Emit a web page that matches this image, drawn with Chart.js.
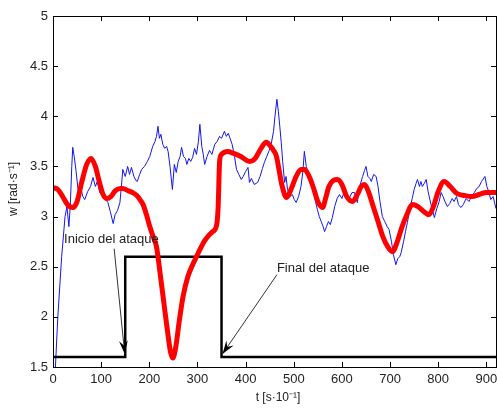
<!DOCTYPE html>
<html>
<head>
<meta charset="utf-8">
<script src="https://cdn.jsdelivr.net/npm/chart.js@4"></script>
<style>
  html, body { margin: 0; padding: 0; background: #fff; }
  #wrap { width: 497px; height: 412px; }
</style>
</head>
<body>
<div id="wrap"><canvas id="attackChart" width="497" height="412"></canvas></div>
<script>
// tick labels
const xTicks = [0, 100, 200, 300, 400, 500, 600, 700, 800, 900]
const yTicks = [1.5, 2, 2.5, 3, 3.5, 4, 4.5, 5]

// attack signal (step)
const stepT = [0, 150, 150, 350, 350, 920]
const stepW = [1.6, 1.6, 2.6, 2.6, 1.6, 1.6]

// measured speed (blue, noisy)
const blueT = [5, 10, 18, 25, 29, 33, 36, 39, 41, 44, 48, 52, 57, 62, 66, 72, 78, 83, 88, 92, 97, 102, 108, 114, 119, 125, 129, 134, 139, 142, 145, 150, 155, 159, 163, 168, 172, 175, 180, 184, 190, 196, 201, 207, 212, 215, 218, 221, 224, 228, 232, 236, 239, 243, 248, 252, 256, 260, 264, 267, 271, 275, 278, 282, 286, 290, 294, 298, 302, 305, 309, 312, 315, 320, 325, 330, 336, 341, 346, 350, 356, 360, 364, 367, 372, 377, 381, 386, 391, 395, 400, 405, 408, 412, 418, 425, 430, 435, 439, 444, 449, 453, 458, 461, 465, 468, 471, 474, 477, 481, 484, 487, 492, 497, 501, 505, 510, 515, 519, 522, 526, 530, 533, 538, 543, 549, 553, 557, 561, 564, 568, 572, 576, 580, 585, 590, 595, 600, 605, 610, 616, 621, 626, 632, 637, 643, 647, 650, 654, 658, 661, 666, 671, 675, 679, 684, 689, 694, 698, 703, 707, 712, 716, 720, 723, 728, 732, 736, 741, 746, 750, 754, 757, 761, 764, 767, 771, 775, 779, 785, 789, 792, 797, 802, 806, 810, 814, 819, 824, 829, 833, 838, 842, 847, 852, 858, 864, 869, 875, 880, 885, 890, 897, 901, 905, 909, 914, 920]
const blueW = [1.5, 2.0, 2.6, 3.0, 3.1, 2.9, 3.12, 3.5, 3.69, 3.6, 3.45, 3.27, 3.3, 3.2, 3.17, 3.25, 3.3, 3.39, 3.3, 3.35, 3.24, 3.28, 3.18, 3.14, 3.05, 2.93, 3.02, 3.06, 3.14, 3.3, 3.47, 3.4, 3.5, 3.42, 3.49, 3.4, 3.36, 3.35, 3.42, 3.47, 3.5, 3.55, 3.6, 3.7, 3.75, 3.8, 3.9, 3.78, 3.82, 3.72, 3.68, 3.7, 3.65, 3.5, 3.27, 3.52, 3.44, 3.55, 3.6, 3.69, 3.6, 3.58, 3.52, 3.58, 3.55, 3.59, 3.68, 3.62, 3.75, 3.92, 3.7, 3.62, 3.52, 3.6, 3.66, 3.62, 3.72, 3.75, 3.8, 3.78, 3.85, 3.8, 3.83, 3.79, 3.72, 3.6, 3.47, 3.42, 3.37, 3.4, 3.45, 3.49, 3.34, 3.38, 3.32, 3.34, 3.4, 3.48, 3.54, 3.6, 3.66, 3.72, 3.85, 4.0, 4.17, 4.05, 3.9, 3.74, 3.55, 3.34, 3.4, 3.27, 3.2, 3.22, 3.17, 3.14, 3.2, 3.3, 3.45, 3.65, 3.5, 3.44, 3.4, 3.3, 3.2, 3.07, 3.0, 2.95, 2.9, 2.85, 2.9, 2.95, 2.92, 2.99, 3.1, 3.18, 3.22, 3.18, 3.25, 3.2, 3.19, 3.24, 3.24, 3.14, 3.3, 3.4, 3.46, 3.5, 3.4, 3.38, 3.35, 3.42, 3.4, 3.3, 3.15, 3.0, 2.95, 2.9, 2.87, 2.75, 2.62, 2.52, 2.58, 2.6, 2.64, 2.75, 2.85, 2.94, 3.08, 3.18, 3.27, 3.33, 3.37, 3.3, 3.35, 3.3, 3.33, 3.37, 3.25, 3.12, 3.05, 2.99, 3.08, 3.15, 3.24, 3.2, 3.15, 3.1, 3.13, 3.18, 3.15, 3.2, 3.12, 3.09, 3.12, 3.18, 3.15, 3.2, 3.24, 3.28, 3.3, 3.35, 3.4, 3.3, 3.25, 3.17, 3.2, 3.08]

// estimated speed (red, smooth)
const redT = [0, 10, 20, 30, 41, 50, 60, 70, 79, 88, 96, 104, 112, 120, 130, 140, 145, 155, 165, 174, 182, 187, 194, 201, 208, 215, 222, 230, 238, 244, 249, 255, 262, 270, 280, 290, 298, 306, 315, 325, 332, 340, 343, 346, 350, 363, 375, 390, 408, 420, 432, 443, 452, 458, 464, 470, 476, 485, 495, 505, 515, 522, 530, 540, 550, 560, 566, 573, 582, 591, 600, 610, 622, 632, 640, 647, 655, 665, 675, 685, 695, 705, 715, 725, 735, 746, 758, 770, 781, 790, 800, 812, 825, 839, 855, 870, 885, 900, 920]
const redW = [3.29, 3.27, 3.2, 3.12, 3.09, 3.15, 3.35, 3.52, 3.58, 3.5, 3.35, 3.22, 3.18, 3.2, 3.26, 3.28, 3.28, 3.26, 3.24, 3.21, 3.16, 3.12, 3.02, 2.9, 2.8, 2.7, 2.45, 2.15, 1.85, 1.65, 1.59, 1.7, 1.95, 2.2, 2.4, 2.52, 2.6, 2.68, 2.76, 2.82, 2.85, 2.92, 3.1, 3.55, 3.62, 3.65, 3.63, 3.6, 3.55, 3.58, 3.68, 3.74, 3.7, 3.66, 3.6, 3.45, 3.3, 3.19, 3.28, 3.4, 3.47, 3.47, 3.42, 3.3, 3.15, 3.09, 3.18, 3.3, 3.36, 3.37, 3.32, 3.2, 3.15, 3.22, 3.3, 3.32, 3.25, 3.1, 2.95, 2.8, 2.7, 2.65, 2.75, 2.9, 3.02, 3.12, 3.1, 3.05, 3.02, 3.1, 3.25, 3.35, 3.3, 3.23, 3.21, 3.2, 3.22, 3.24, 3.24]

// annotations: [text, textT, textW, fromT, fromW, tipT, tipW]
const notes = [
  ["Inicio del ataque", 23, 2.77, 127, 2.68, 149, 1.63],
  ["Final del ataque", 465, 2.48, 465, 2.42, 352, 1.63]
]

const FONT = '13px "Liberation Sans", Arial, sans-serif'

function pts(xs, ys) {
  return xs.map((x, i) => ({ x: x, y: ys[i] }))
}

// matlab-like box with inward ticks, axis titles and arrows
const matlabBox = {
  id: "matlabBox",
  afterDatasetsDraw(chart) {
    const ctx = chart.ctx
    const a = chart.chartArea
    const xs = chart.scales.x
    const ys = chart.scales.y
    ctx.save()
    ctx.strokeStyle = "#000"
    ctx.lineWidth = 1
    ctx.strokeRect(a.left + 0.5, a.top + 0.5, a.right - a.left, a.bottom - a.top)
    ctx.beginPath()
    xTicks.forEach(v => {
      const px = Math.round(xs.getPixelForValue(v)) + 0.5
      ctx.moveTo(px, a.bottom); ctx.lineTo(px, a.bottom - 5)
      ctx.moveTo(px, a.top); ctx.lineTo(px, a.top + 5)
    })
    yTicks.forEach(v => {
      const py = Math.round(ys.getPixelForValue(v)) + 0.5
      ctx.moveTo(a.left, py); ctx.lineTo(a.left + 5, py)
      ctx.moveTo(a.right, py); ctx.lineTo(a.right - 5, py)
    })
    ctx.stroke()

    // annotations
    ctx.font = FONT
    ctx.fillStyle = "#222"
    ctx.textBaseline = "middle"
    notes.forEach(n => {
      ctx.textAlign = "left"
      ctx.fillText(n[0], xs.getPixelForValue(n[1]), ys.getPixelForValue(n[2]))
      const x0 = xs.getPixelForValue(n[3]), y0 = ys.getPixelForValue(n[4])
      const x1 = xs.getPixelForValue(n[5]), y1 = ys.getPixelForValue(n[6])
      ctx.strokeStyle = "#333"
      ctx.lineWidth = 1
      ctx.beginPath(); ctx.moveTo(x0, y0); ctx.lineTo(x1, y1); ctx.stroke()
      const ang = Math.atan2(y1 - y0, x1 - x0)
      const L = 14, W = 0.32
      ctx.fillStyle = "#000"
      ctx.beginPath()
      ctx.moveTo(x1, y1)
      ctx.lineTo(x1 - L * Math.cos(ang - W), y1 - L * Math.sin(ang - W))
      ctx.lineTo(x1 - L * 0.6 * Math.cos(ang), y1 - L * 0.6 * Math.sin(ang))
      ctx.lineTo(x1 - L * Math.cos(ang + W), y1 - L * Math.sin(ang + W))
      ctx.closePath()
      ctx.fill()
      ctx.fillStyle = "#222"
    })

    // axis titles
    ctx.font = '12px "Liberation Sans", Arial, sans-serif'
    ctx.textAlign = "center"
    ctx.fillText("t [s·10⁻¹]", 278, 398)
    ctx.translate(14, 189)
    ctx.rotate(-Math.PI / 2)
    ctx.fillText("w [rad·s⁻¹]", 0, 0)
    ctx.restore()
  }
}

const config = {
  type: "line",
  data: {
    datasets: [
      {
        label: "estimada",
        data: pts(redT, redW),
        borderColor: "#ff0000",
        borderWidth: 5,
        pointRadius: 0,
        cubicInterpolationMode: "monotone",
        order: 0
      },
      {
        label: "ataque",
        data: pts(stepT, stepW),
        borderColor: "#000",
        borderWidth: 2.5,
        pointRadius: 0,
        tension: 0,
        order: 1
      },
      {
        label: "medida",
        data: pts(blueT, blueW),
        borderColor: "#1414ee",
        borderWidth: 1,
        pointRadius: 0,
        tension: 0,
        order: 2
      }
    ]
  },
  options: {
    responsive: false,
    animation: false,
    events: [],
    layout: { padding: { top: 16, right: 1, left: 0, bottom: 0 } },
    plugins: { legend: { display: false }, tooltip: { enabled: false } },
    scales: {
      x: {
        type: "linear",
        min: 0,
        max: 920,
        grid: { display: false, drawTicks: false },
        border: { display: false },
        afterBuildTicks: s => { s.ticks = xTicks.map(v => ({ value: v })) },
        afterFit: s => { s.height = 45; s.paddingLeft = 0; s.paddingRight = 0 },
        ticks: { font: { family: '"Liberation Sans", Arial, sans-serif', size: 13 }, color: "#222", padding: 5, maxRotation: 0, autoSkip: false }
      },
      y: {
        type: "linear",
        min: 1.5,
        max: 5,
        grid: { display: false, drawTicks: false },
        border: { display: false },
        afterBuildTicks: s => { s.ticks = yTicks.map(v => ({ value: v })) },
        afterFit: s => { s.width = 53; s.paddingTop = 0; s.paddingBottom = 0 },
        ticks: { font: { family: '"Liberation Sans", Arial, sans-serif', size: 13 }, color: "#222", padding: 5, callback: v => String(v) }
      }
    }
  },
  plugins: [matlabBox]
}

new Chart(document.getElementById("attackChart"), config)
</script>
</body>
</html>
